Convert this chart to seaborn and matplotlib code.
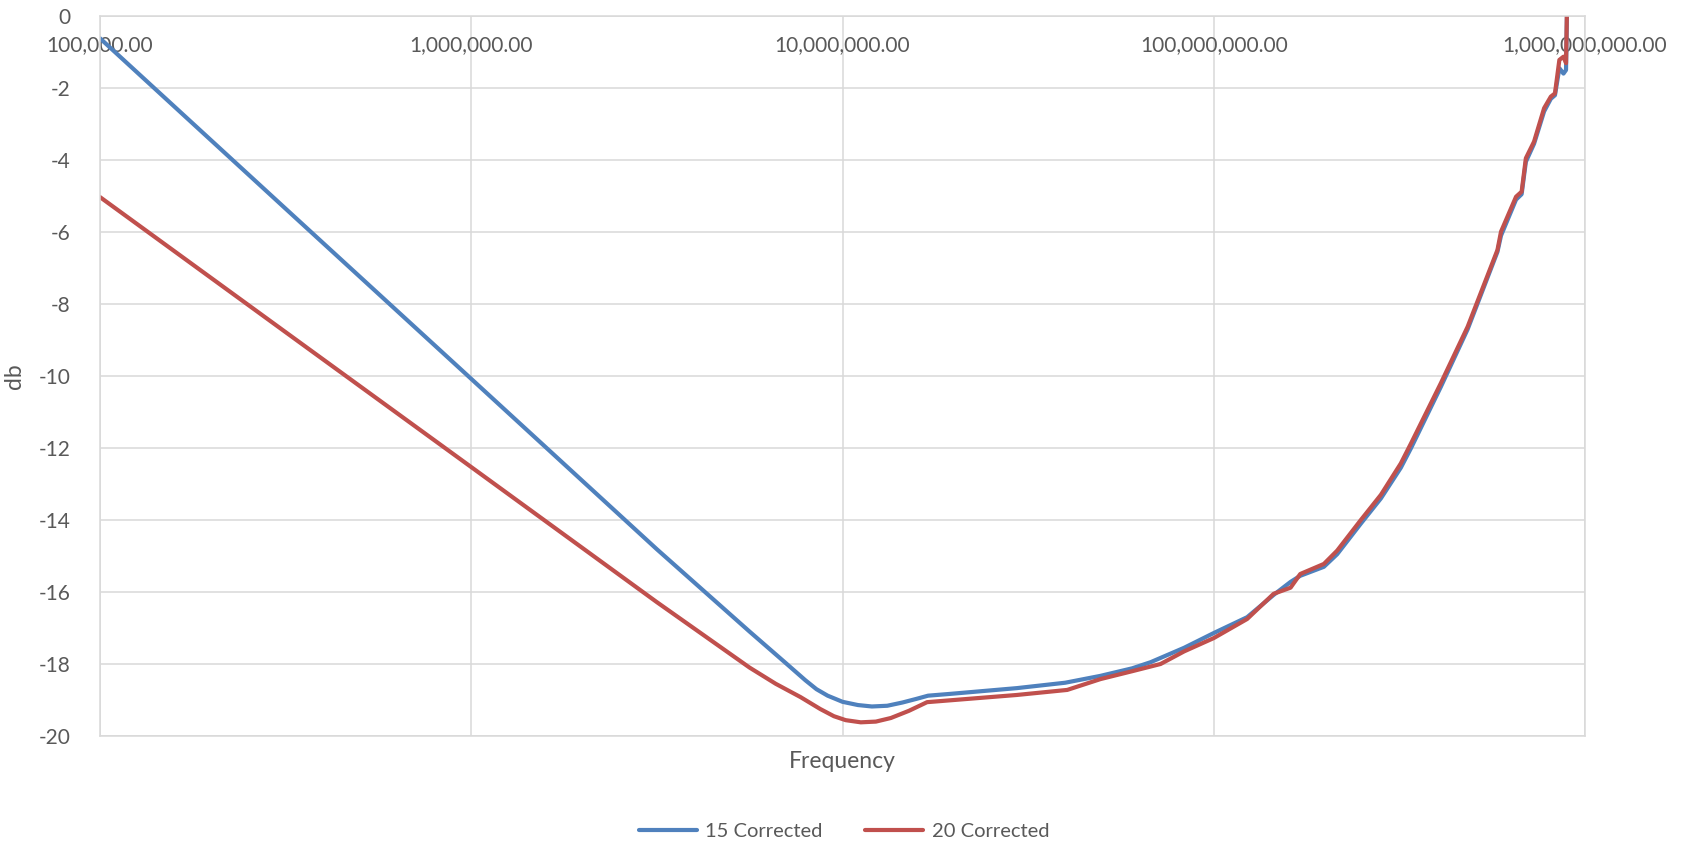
import matplotlib
matplotlib.use("Agg")
import matplotlib.pyplot as plt
import matplotlib.ticker as mticker
import seaborn as sns
import pandas as pd

# Measured return loss (dB) versus frequency (Hz)
freq_15 = [1.00e5, 3.16e5, 1.00e6, 3.16e6, 5.62e6, 7.08e6, 7.94e6, 8.51e6,
           9.12e6, 1.00e7, 1.10e7, 1.20e7, 1.32e7, 1.45e7, 1.58e7, 1.70e7,
           1.95e7, 2.95e7, 3.98e7, 4.95e7, 6.03e7, 6.76e7, 8.32e7, 1.00e8,
           1.23e8, 1.45e8, 1.61e8, 1.71e8, 1.98e8, 2.15e8, 2.49e8, 2.82e8,
           3.19e8, 3.40e8, 4.09e8, 4.83e8, 5.81e8, 5.94e8, 6.52e8, 6.75e8,
           6.93e8, 7.29e8, 7.76e8, 8.09e8, 8.30e8, 8.53e8, 8.75e8, 8.89e8,
           8.97e8]
db_15 = [-0.62, -5.35, -10.08, -14.81, -17.10, -18.00, -18.45, -18.70,
         -18.88, -19.05, -19.14, -19.18, -19.16, -19.07, -18.97, -18.88,
         -18.83, -18.67, -18.52, -18.33, -18.12, -17.95, -17.55, -17.14,
         -16.70, -16.08, -15.72, -15.55, -15.30, -14.95, -14.10, -13.40,
         -12.55, -12.00, -10.30, -8.70, -6.55, -6.10, -5.10, -4.95,
         -4.05, -3.55, -2.65, -2.30, -2.20, -1.45, -1.60, -1.50,
         1.00]

freq_20 = [1.00e5, 3.16e5, 1.00e6, 3.16e6, 5.62e6, 6.61e6, 7.71e6, 8.71e6,
           9.48e6, 1.02e7, 1.12e7, 1.23e7, 1.35e7, 1.51e7, 1.69e7, 2.95e7,
           4.03e7, 4.95e7, 6.03e7, 7.19e7, 8.32e7, 1.00e8, 1.23e8, 1.45e8,
           1.61e8, 1.71e8, 1.98e8, 2.15e8, 2.49e8, 2.82e8, 3.19e8, 3.40e8,
           4.09e8, 4.83e8, 5.81e8, 5.94e8, 6.52e8, 6.75e8, 6.93e8, 7.29e8,
           7.76e8, 8.09e8, 8.30e8, 8.53e8, 8.75e8, 8.89e8, 8.97e8]
db_20 = [-5.03, -8.78, -12.53, -16.28, -18.10, -18.55, -18.92, -19.25,
         -19.45, -19.56, -19.62, -19.60, -19.50, -19.30, -19.06, -18.86,
         -18.72, -18.42, -18.20, -18.00, -17.65, -17.28, -16.75, -16.05,
         -15.88, -15.50, -15.22, -14.85, -14.00, -13.30, -12.43, -11.87,
         -10.20, -8.63, -6.50, -5.99, -5.02, -4.88, -3.95, -3.49,
         -2.56, -2.24, -2.15, -1.22, -1.13, -1.31, 1.00]

series_names = ["15 Corrected", "20 Corrected"]
series_colors = ["#4F81BD", "#C0504D"]

x_ticks = [1e5, 1e6, 1e7, 1e8, 1e9]
y_ticks = list(range(-20, 1, 2))

df = pd.concat([
    pd.DataFrame({"Frequency": freq_15, "db": db_15, "series": series_names[0]}),
    pd.DataFrame({"Frequency": freq_20, "db": db_20, "series": series_names[1]}),
])

sns.set_theme(style="whitegrid")
plt.rcParams["font.family"] = ["Lato", "DejaVu Sans"]
text_color = "#595959"
grid_color = "#D9D9D9"

fig = plt.figure(figsize=(16.88, 8.41), dpi=100)
ax = fig.add_axes([100 / 1688, 1 - 736 / 841, 1485 / 1688, 720 / 841])

for name, color in zip(series_names, series_colors):
    sns.lineplot(data=df[df["series"] == name], x="Frequency", y="db",
                 color=color, linewidth=3.0, label=name, ax=ax,
                 sort=False, estimator=None)

ax.set_xscale("log")
ax.set_xlim(1e5, 1e9)
ax.set_ylim(-20, 0)
ax.set_xticks(x_ticks)
ax.xaxis.set_major_formatter(mticker.FuncFormatter(lambda v, p: f"{v:,.2f}"))
ax.xaxis.set_minor_locator(mticker.NullLocator())
ax.set_yticks(y_ticks)
ax.yaxis.set_major_formatter(mticker.FuncFormatter(lambda v, p: f"{v:g}"))

ax.grid(True, which="major", color=grid_color, linewidth=1.1)
for s in ax.spines.values():
    s.set_color(grid_color)
    s.set_linewidth(1.1)

# Category labels sit just under the zero line, Excel style
ax.tick_params(axis="x", top=False, bottom=False, labeltop=True,
               labelbottom=False, pad=-34, labelsize=15, colors=text_color)
ax.tick_params(axis="y", left=False, pad=15, labelsize=15, colors=text_color)

ax.set_xlabel("Frequency", fontsize=16.5, color=text_color, labelpad=11)
ax.xaxis.set_label_position("bottom")
ax.set_ylabel("db", fontsize=16.5, color=text_color, labelpad=10)

ax.get_legend().remove()
handles, labels = ax.get_legend_handles_labels()
leg = fig.legend(handles, labels, loc="lower center", bbox_to_anchor=(0.5, -0.02),
                 ncol=2, frameon=False, fontsize=14.5, handlelength=2.9,
                 columnspacing=2.1, handletextpad=0.4)
for t in leg.get_texts():
    t.set_color(text_color)

fig.savefig("out.png", dpi=100)
